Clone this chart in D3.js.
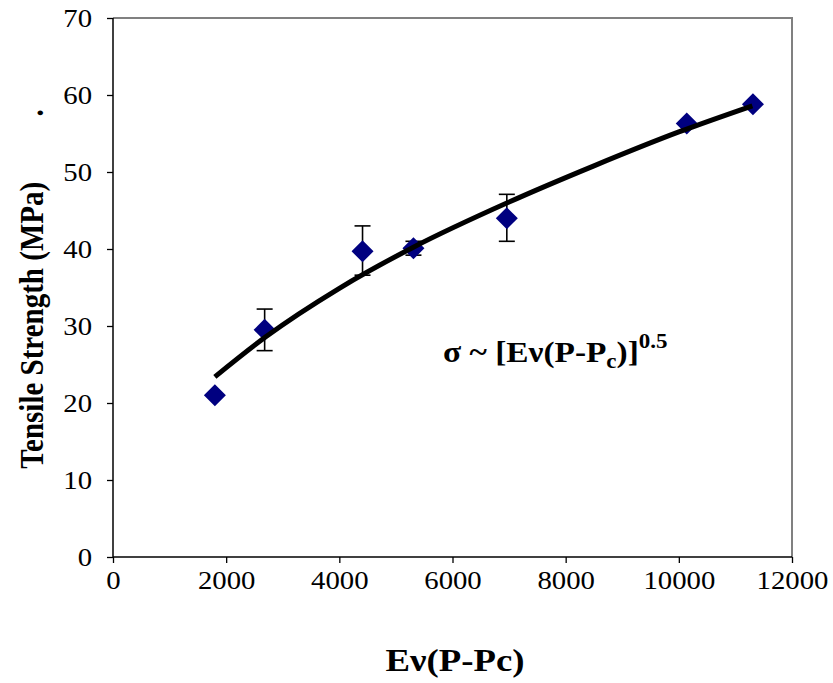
<!DOCTYPE html>
<html>
<head>
<meta charset="utf-8">
<script src="https://d3js.org/d3.v7.min.js"></script>
<style>
  body { margin: 0; background: #fff; }
  text { font-family: "Liberation Serif", "Times New Roman", serif; fill: #000; }
</style>
</head>
<body>
<div id="chart"><svg width="833" height="683"></svg></div>
<script>
// measured points
var energy = [1800, 2680, 4410, 5310, 6960, 10140, 11310]
var strength = [21.0, 29.5, 39.7, 40.1, 44.0, 56.3, 58.8]
var errPlus = [0, 2.7, 3.3, 0.9, 3.1, 0, 0]
var errMinus = [0, 2.7, 3.1, 0.9, 3.0, 0, 0]

// power-law fit curve
var fitX = [1800, 2700, 4000, 5300, 7000, 8500, 10000, 11300]
var fitY = [23.4, 28.6, 34.9, 40.2, 46.1, 50.8, 55.2, 58.6]

var xTicks = [0, 2000, 4000, 6000, 8000, 10000, 12000]
var yTicks = [0, 10, 20, 30, 40, 50, 60, 70]

var sx = 1.15 // the picture's text is a bit wide

var svg = d3.select("#chart svg")

var x = d3.scaleLinear().domain([0, 12000]).range([113, 792])
var y = d3.scaleLinear().domain([0, 70]).range([557, 18])

// gray frame top / right
svg.append("path")
    .attr("d", "M" + x(0) + "," + y(70) + "H" + x(12000) + "V" + y(0))
    .attr("fill", "none")
    .attr("stroke", "#808080")
    .attr("stroke-width", 2)

var xAxis = d3.axisBottom(x).tickValues(xTicks).tickSize(6).tickFormat(d3.format("d"))
var gx = svg.append("g")
    .attr("transform", "translate(0," + y(0) + ")")
    .call(xAxis)
gx.select(".domain").attr("stroke", "#000").attr("stroke-width", 1.5).attr("d", "M" + x(0) + ",0H" + x(12000))
gx.selectAll("line").attr("stroke", "#000").attr("stroke-width", 1.3)
gx.selectAll("text")
    .style("font-size", "25px").attr("font-family", "Liberation Serif")
    .attr("y", 32).attr("dy", null)
    .attr("transform", "scale(" + sx + ",1)")

var yAxis = d3.axisLeft(y).tickValues(yTicks).tickSize(6)
var gy = svg.append("g")
    .attr("transform", "translate(" + x(0) + ",0)")
    .call(yAxis)
gy.select(".domain").attr("stroke", "#000").attr("stroke-width", 1.5).attr("d", "M0," + y(0) + "V" + y(70))
gy.selectAll("line").attr("stroke", "#000").attr("stroke-width", 1.3)
gy.selectAll("text")
    .style("font-size", "25px").attr("font-family", "Liberation Serif")
    .attr("x", -21 / sx)
    .attr("transform", "scale(" + sx + ",1)")

// error bars
var pts = energy.map(function(d, i) {
    return { x: d, y: strength[i], ep: errPlus[i], em: errMinus[i] }
})
var eb = svg.append("g").selectAll("g")
    .data(pts.filter(function(d) { return d.ep > 0 }))
    .enter().append("g")
    .attr("stroke", "#000").attr("stroke-width", 1.6)
eb.append("line")
    .attr("x1", function(d) { return x(d.x) }).attr("x2", function(d) { return x(d.x) })
    .attr("y1", function(d) { return y(d.y + d.ep) }).attr("y2", function(d) { return y(d.y - d.em) })
eb.append("line")
    .attr("x1", function(d) { return x(d.x) - 8 }).attr("x2", function(d) { return x(d.x) + 8 })
    .attr("y1", function(d) { return y(d.y + d.ep) }).attr("y2", function(d) { return y(d.y + d.ep) })
eb.append("line")
    .attr("x1", function(d) { return x(d.x) - 8 }).attr("x2", function(d) { return x(d.x) + 8 })
    .attr("y1", function(d) { return y(d.y - d.em) }).attr("y2", function(d) { return y(d.y - d.em) })

// diamonds
svg.append("g").selectAll("path")
    .data(pts)
    .enter().append("path")
    .attr("d", "M0,-11L11,0L0,11L-11,0Z")
    .attr("transform", function(d) { return "translate(" + x(d.x) + "," + y(d.y) + ")" })
    .attr("fill", "#000080")

// fit curve
var line = d3.line()
    .x(function(d, i) { return x(fitX[i]) })
    .y(function(d) { return y(d) })
    .curve(d3.curveMonotoneX)
svg.append("path")
    .datum(fitY)
    .attr("d", line)
    .attr("fill", "none")
    .attr("stroke", "#000")
    .attr("stroke-width", 5)

// equation
var eq = svg.append("text")
    .attr("transform", "translate(443,362) scale(" + sx + ",1)")
    .style("font-size", "29px").style("font-weight", "bold")
eq.append("tspan").text("σ ~ [Eν(P-P")
eq.append("tspan").text("c").style("font-size", "20px").attr("dy", 6)
eq.append("tspan").text(")]").attr("dy", -6)
eq.append("tspan").text("0.5").style("font-size", "20px").attr("dy", -14)

// axis titles
svg.append("text")
    .attr("transform", "translate(455,671) scale(" + sx + ",1)")
    .attr("text-anchor", "middle")
    .style("font-size", "32px").style("font-weight", "bold")
    .text("Eν(P-Pc)")

svg.append("text")
    .attr("transform", "translate(31,289) rotate(-90) scale(1," + sx + ")")
    .attr("text-anchor", "middle")
    .attr("dy", "0.35em")
    .style("font-size", "29px").style("font-weight", "bold")
    .style("white-space", "pre")
    .attr("xml:space", "preserve")
    .text("Tensile Strength (MPa)         .")
</script>
</body>
</html>
